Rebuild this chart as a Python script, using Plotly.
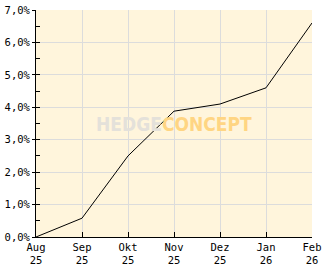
import plotly.graph_objects as go

months = ["Aug<br>25", "Sep<br>25", "Okt<br>25", "Nov<br>25", "Dez<br>25", "Jan<br>26", "Feb<br>26"]
month_idx = [0, 1, 2, 3, 4, 5, 6]
values = [0.0, 0.58, 2.5, 3.88, 4.1, 4.6, 6.6]
y_ticks = [0, 1, 2, 3, 4, 5, 6, 7]
y_labels = ["0,0%", "1,0%", "2,0%", "3,0%", "4,0%", "5,0%", "6,0%", "7,0%"]

FONT = "DejaVu Sans Mono"
BG = "#FFF5DC"
GRID = "#DCDCDC"

fig = go.Figure()
fig.add_trace(go.Scatter(x=month_idx, y=values, mode="lines",
                         line=dict(color="black", width=1), hoverinfo="skip"))
fig.add_trace(go.Scatter(x=month_idx, y=values, mode="lines", yaxis="y2",
                         line=dict(color="rgba(0,0,0,0)", width=0), hoverinfo="skip"))

fig.update_layout(
    width=332, height=269,
    margin=dict(l=36, r=20, t=10, b=32),
    paper_bgcolor="white", plot_bgcolor=BG,
    showlegend=False,
    font=dict(family=FONT, size=10.5, color="black"),
    xaxis=dict(range=[0, 6], tickvals=month_idx, ticktext=months,
               showgrid=True, gridcolor=GRID, gridwidth=1,
               showline=True, linecolor="black", linewidth=1,
               ticks="inside", ticklen=5, tickcolor="black", automargin=False,
               zeroline=False, tickfont=dict(family=FONT, size=10.5)),
    yaxis=dict(range=[0, 7], tickvals=y_ticks, ticktext=y_labels,
               showgrid=True, gridcolor=GRID, gridwidth=1,
               showline=True, linecolor="black", linewidth=1,
               ticks="outside", ticklen=3, tickcolor="black", automargin=False,
               zeroline=False, tickfont=dict(family=FONT, size=10.5)),
    yaxis2=dict(range=[0, 7], overlaying="y", side="left", showgrid=False,
                showticklabels=False, ticks="inside", ticklen=4, tickcolor="black",
                tickvals=y_ticks, zeroline=False, showline=False, automargin=False,
                minor=dict(ticks="inside", ticklen=4, tickcolor="black", dtick=0.5,
                           showgrid=False)),
)

fig.add_annotation(
    x=0.5, y=0.5, xref="paper", yref="paper", showarrow=False,
    text="<b><span style='color:#E4E1DA'>HEDGE</span><span style='color:#FFD583'>CONCEPT</span></b>",
    font=dict(family="DejaVu Sans Condensed", size=19),
)

fig.write_html("out.html")
